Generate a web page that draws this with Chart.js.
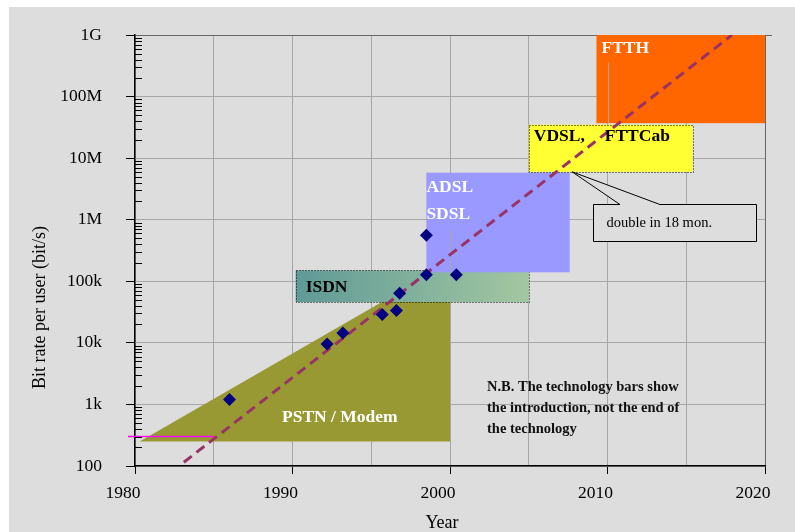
<!DOCTYPE html>
<html><head><meta charset="utf-8">
<script src="https://cdn.jsdelivr.net/npm/chart.js@4/dist/chart.umd.min.js"></script>
<style>html,body{margin:0;padding:0;background:#fff}canvas{display:block}</style>
</head><body>
<canvas id="c" width="795" height="532"></canvas>
<script>
// ---- data ----
const modemYears = [1986.0, 1992.2, 1993.2, 1995.7, 1996.6, 1996.8, 1998.5, 2000.4, 1998.5];
const modemRates = [1200, 9600, 14400, 28800, 33600, 64000, 128000, 128000, 560000];
const trendYears = [1983.1, 2017.9];
const trendRates = [115, 1e9];
const startYears = [1979.55, 1985.0];
const startRates = [300, 300];
const xTickValues = [1980, 1990, 2000, 2010, 2020];
const xTickLabels = ['1980', '1990', '2000', '2010', '2020'];
const yTickValues = [1e2, 1e3, 1e4, 1e5, 1e6, 1e7, 1e8, 1e9];
const yTickLabels = ['100', '1k', '10k', '100k', '1M', '10M', '100M', '1G'];
// technology bands: [yearFrom, yearTo, rateLow, rateHigh]
const pstnYears = [1980.3, 2000, 2000];
const pstnRates = [250, 200000, 250];
const isdnBand = [1990.2, 2005.0, 46000, 150000];
const adslBand = [1998.5, 2007.6, 140000, 5.8e6];
const vdslBand = [2005.0, 2015.4, 6e6, 3.5e7];
const ftthBand = [2009.3, 2020, 3.7e7, 1e9];
// callout: box [yearFrom, yearTo, rateLow, rateHigh], tip [year, rate], pointer base years
const calloutBox = [2009.08, 2019.43, 450000, 1.8e6];
const calloutTip = [2007.75, 6e6];
const calloutBase = [2010.79, 2013.33];
// grid lines that show through the bands: [year, rateFrom, rateTo]
const showThrough = [[2010, 3.5e8, 3.7e7], [2000, 6.8e5, 140000]];

const FONT = "'Liberation Serif','Times New Roman',serif";
const BG = '#dddddd';
const GRID = '#a6a6a6';

function P(chart, year, rate) {
  return [chart.scales.x.getPixelForValue(year), chart.scales.y.getPixelForValue(rate)];
}
function R(chart, b) {
  const [x1, y1] = P(chart, b[0], b[3]);
  const [x2, y2] = P(chart, b[1], b[2]);
  return {x: x1, y: y1, w: x2 - x1, h: y2 - y1};
}

const deco = {
  id: 'deco',
  beforeDraw(chart) {
    const ctx = chart.ctx;
    ctx.save();
    ctx.fillStyle = '#ffffff';
    ctx.fillRect(0, 0, chart.width, chart.height);
    ctx.fillStyle = BG;
    ctx.fillRect(9, 7, chart.width - 9, chart.height - 7);
    ctx.restore();
  },
  beforeDatasetsDraw(chart) {
    const ctx = chart.ctx;
    ctx.save();
    // PSTN / Modem
    ctx.fillStyle = '#999933';
    ctx.beginPath();
    pstnYears.forEach((yr, i) => {
      const [x, y] = P(chart, yr, pstnRates[i]);
      if (i === 0) ctx.moveTo(x, y); else ctx.lineTo(x, y);
    });
    ctx.closePath();
    ctx.fill();
    // ISDN
    let r = R(chart, isdnBand);
    const g = ctx.createLinearGradient(r.x, 0, r.x + r.w, 0);
    g.addColorStop(0, '#5f9a96');
    g.addColorStop(1, '#a3c7a1');
    ctx.fillStyle = g;
    ctx.fillRect(r.x, r.y, r.w, r.h);
    ctx.setLineDash([1, 2]);
    ctx.strokeStyle = '#000';
    ctx.lineWidth = 1;
    ctx.strokeRect(Math.round(r.x) + 0.5, Math.round(r.y) + 0.5, Math.round(r.w), Math.round(r.h));
    ctx.setLineDash([]);
    // ADSL
    r = R(chart, adslBand);
    ctx.fillStyle = '#9999ff';
    ctx.fillRect(r.x, r.y, r.w, r.h);
    // VDSL
    r = R(chart, vdslBand);
    ctx.fillStyle = '#ffff33';
    ctx.fillRect(r.x, r.y, r.w, r.h);
    ctx.setLineDash([1, 2]);
    ctx.strokeRect(Math.round(r.x) + 0.5, Math.round(r.y) + 0.5, Math.round(r.w), Math.round(r.h));
    ctx.setLineDash([]);
    // FTTH
    r = R(chart, ftthBand);
    ctx.fillStyle = '#ff6600';
    ctx.fillRect(r.x, r.y, r.w, r.h);
    // grid showing through
    ctx.strokeStyle = GRID;
    ctx.lineWidth = 1;
    ctx.beginPath();
    showThrough.forEach(s => {
      const x = Math.round(chart.scales.x.getPixelForValue(s[0])) + 0.5;
      ctx.moveTo(x, chart.scales.y.getPixelForValue(s[1]));
      ctx.lineTo(x, chart.scales.y.getPixelForValue(s[2]));
    });
    ctx.stroke();
    ctx.restore();
  },
  afterDatasetsDraw(chart) {
    const ctx = chart.ctx;
    const ys = chart.scales.y;
    const left = chart.chartArea.left;
    ctx.save();
    // minor ticks on y axis (inside)
    ctx.strokeStyle = '#000';
    ctx.lineWidth = 1;
    ctx.beginPath();
    for (let d = 2; d < 9; d++) {
      for (let m = 2; m <= 9; m++) {
        const y = Math.round(ys.getPixelForValue(m * Math.pow(10, d))) + 0.5;
        ctx.moveTo(left, y);
        ctx.lineTo(left + 7, y);
      }
    }
    ctx.stroke();
    // top border extends slightly past the right axis
    const top = Math.round(chart.chartArea.top) + 0.5;
    ctx.strokeStyle = '#666666';
    ctx.beginPath();
    ctx.moveTo(chart.chartArea.right, top);
    ctx.lineTo(chart.chartArea.right + 7, top);
    ctx.stroke();

    // band labels
    ctx.textBaseline = 'alphabetic';
    ctx.textAlign = 'left';
    ctx.font = 'bold 17.5px ' + FONT;
    let r = R(chart, isdnBand);
    ctx.fillStyle = '#000';
    ctx.fillText('ISDN', r.x + 10, r.y + 22);
    r = R(chart, vdslBand);
    ctx.fillText('VDSL,', r.x + 5, r.y + 16);
    ctx.fillText('FTTCab', r.x + 76, r.y + 16);
    ctx.fillStyle = '#ffffff';
    r = R(chart, adslBand);
    ctx.fillText('ADSL', r.x, r.y + 19);
    ctx.fillText('SDSL', r.x, r.y + 46);
    r = R(chart, ftthBand);
    ctx.fillText('FTTH', r.x + 5, r.y + 18);
    ctx.fillText('PSTN / Modem', 282, 422);

    // callout
    const b = R(chart, calloutBox);
    const [tx, ty] = P(chart, calloutTip[0], calloutTip[1]);
    const bx1 = chart.scales.x.getPixelForValue(calloutBase[0]);
    const bx2 = chart.scales.x.getPixelForValue(calloutBase[1]);
    const x0 = Math.round(b.x) + 0.5, y0 = Math.round(b.y) + 0.5;
    const x1 = Math.round(b.x + b.w) + 0.5, y1 = Math.round(b.y + b.h) + 0.5;
    ctx.beginPath();
    ctx.moveTo(x0, y0);
    ctx.lineTo(bx1, y0);
    ctx.lineTo(tx, ty);
    ctx.lineTo(bx2, y0);
    ctx.lineTo(x1, y0);
    ctx.lineTo(x1, y1);
    ctx.lineTo(x0, y1);
    ctx.closePath();
    ctx.fillStyle = BG;
    ctx.fill();
    ctx.strokeStyle = '#000';
    ctx.lineWidth = 1;
    ctx.stroke();
    ctx.fillStyle = '#000';
    ctx.font = '14.5px ' + FONT;
    ctx.fillText('double in 18 mon.', x0 + 13, y0 + 22);

    // note
    ctx.font = 'bold 14.5px ' + FONT;
    ctx.fillStyle = '#111';
    ctx.fillText('N.B. The technology bars show', 487, 391);
    ctx.fillText('the introduction, not the end of', 487, 412);
    ctx.fillText('the technology', 487, 433);

    // axis titles
    ctx.fillStyle = '#000';
    ctx.font = '18px ' + FONT;
    ctx.textAlign = 'center';
    ctx.fillText('Year', 442, 528);
    ctx.translate(45, 307.5);
    ctx.rotate(-Math.PI / 2);
    ctx.fillText('Bit rate per user (bit/s)', 0, 0);
    ctx.restore();
  }
};

const isDecade = v => xTickValues.indexOf(v) >= 0;

new Chart(document.getElementById('c'), {
  type: 'scatter',
  data: {
    datasets: [
      {
        label: 'Modem rates',
        data: modemYears.map((x, i) => ({x: x, y: modemRates[i]})),
        pointStyle: 'rectRot',
        pointRadius: 6.5,
        backgroundColor: '#000080',
        borderColor: '#000080',
        borderWidth: 0,
        showLine: false
      },
      {
        label: 'double in 18 mon.',
        data: trendYears.map((x, i) => ({x: x, y: trendRates[i]})),
        showLine: true,
        borderColor: '#993366',
        borderWidth: 3,
        borderDash: [10, 6],
        pointRadius: 0,
        fill: false
      },
      {
        label: 'start',
        data: startYears.map((x, i) => ({x: x, y: startRates[i]})),
        showLine: true,
        borderColor: '#ff00ff',
        borderWidth: 1.5,
        pointRadius: 0,
        fill: false,
        clip: false
      }
    ]
  },
  options: {
    responsive: false,
    animation: false,
    devicePixelRatio: 1,
    events: [],
    layout: {padding: {left: 0, top: 35, right: 30, bottom: 0}},
    plugins: {legend: {display: false}, tooltip: {enabled: false}},
    scales: {
      x: {
        type: 'linear',
        min: 1980, max: 2020,
        afterFit(s) { s.height = 66; },
        ticks: {
          stepSize: 5, autoSkip: false, maxRotation: 0, minRotation: 0,
          labelOffset: -12, padding: 9, color: '#000',
          font: {family: FONT, size: 17.5},
          callback(v) { const i = xTickValues.indexOf(v); return i >= 0 ? xTickLabels[i] : ''; }
        },
        grid: {
          lineWidth: 1,
          tickLength: 8,
          color(c) { return c.tick && c.tick.value === 2020 ? '#666666' : GRID; },
          tickColor(c) { return c.tick && isDecade(c.tick.value) ? '#000' : 'rgba(0,0,0,0)'; }
        },
        border: {color: '#000', width: 1.5}
      },
      y: {
        type: 'logarithmic',
        min: 100, max: 1e9,
        afterFit(s) { s.width = 135; },
        afterBuildTicks(s) { s.ticks = yTickValues.map(v => ({value: v})); },
        ticks: {
          padding: 24, color: '#000',
          font: {family: FONT, size: 17.5},
          callback(v) { const i = yTickValues.indexOf(v); return i >= 0 ? yTickLabels[i] : ''; }
        },
        grid: {
          lineWidth: 1,
          tickLength: 9,
          color(c) { return c.tick && c.tick.value === 1e9 ? '#666666' : GRID; },
          tickColor: '#000'
        },
        border: {color: '#000', width: 1.5}
      }
    }
  },
  plugins: [deco]
});
</script>
</body></html>
